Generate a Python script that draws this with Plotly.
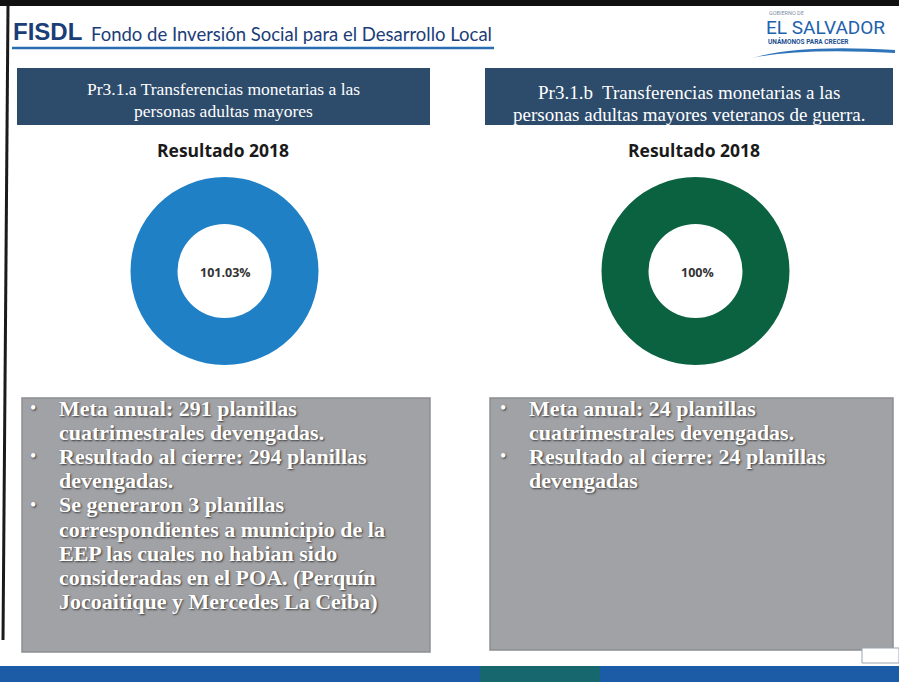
import plotly.graph_objects as go

W, H = 899, 682

# ---- data ----
indicadores = ["Pr3.1.a", "Pr3.1.b"]
resultado_pct = [101.03, 100]
resultado_lbl = ["101.03%", "100%"]
titulos = [
    ["Pr3.1.a Transferencias monetarias a las", "personas adultas mayores"],
    ["Pr3.1.b  Transferencias monetarias a las", "personas adultas mayores veteranos de guerra."],
]
subtitulo = "Resultado 2018"
texto_izq = [
    (True, "Meta anual: 291 planillas"),
    (False, "cuatrimestrales devengadas."),
    (True, "Resultado al cierre: 294 planillas"),
    (False, "devengadas."),
    (True, "Se generaron 3 planillas"),
    (False, "correspondientes a municipio de la"),
    (False, "EEP las cuales no habian sido"),
    (False, "consideradas en el POA. (Perquín"),
    (False, "Jocoaitique y Mercedes La Ceiba)"),
]
texto_der = [
    (True, "Meta anual: 24 planillas"),
    (False, "cuatrimestrales devengadas."),
    (True, "Resultado al cierre: 24 planillas"),
    (False, "devengadas"),
]

# ---- helpers (pixel -> paper) ----
def px(x):
    return x / W

def py(y):
    return 1 - y / H

fig = go.Figure()

colors = ["#1f80c6", "#0b6241"]
centers = [(224.5, 271), (695.5, 271)]
R = 94
for i, (cx, cy) in enumerate(centers):
    fig.add_trace(go.Pie(
        values=[resultado_pct[i]],
        labels=[indicadores[i]],
        hole=0.5,
        sort=False,
        textinfo="none",
        hoverinfo="skip",
        showlegend=False,
        marker=dict(colors=[colors[i]], line=dict(width=0)),
        domain=dict(x=[px(cx - R), px(cx + R)], y=[py(cy + R), py(cy - R)]),
    ))

shapes = []
ann = []

def rect(x0, y0, x1, y1, fill, line_color=None, lw=0):
    shapes.append(dict(type="rect", xref="paper", yref="paper",
                       x0=px(x0), x1=px(x1), y0=py(y1), y1=py(y0),
                       fillcolor=fill, line=dict(color=line_color or fill, width=lw),
                       layer="below"))

def text(x, y, s, size, color, family, xanchor="center", bold=False, shadow=None):
    f = dict(size=size, color=color, family=family)
    if bold:
        f["weight"] = "bold"
    if shadow:
        f["shadow"] = shadow
    ann.append(dict(x=px(x), y=py(y), xref="paper", yref="paper", text=s,
                    showarrow=False, xanchor=xanchor, yanchor="middle", font=f))

# frame
rect(0, 0, W, 6, "#111111")
shapes.append(dict(type="line", xref="paper", yref="paper", x0=px(8), y0=py(6),
                   x1=px(3), y1=py(640), line=dict(color="#1a1a1a", width=3)))

# header
text(11, 32, "FISDL", 24, "#1b3d78", "Liberation Sans", xanchor="left", bold=True)
text(89, 34, "Fondo de Inversión Social para el Desarrollo Local", 18.5, "#1b3d78",
     "Lato", xanchor="left")
shapes.append(dict(type="line", xref="paper", yref="paper", x0=px(12), y0=py(48),
                   x1=px(494), y1=py(48), line=dict(color="#2b6db3", width=2.5)))

# logo
text(767, 13, "GOBIERNO DE", 5.5, "#7f8fa8", "Roboto", xanchor="left")
text(764, 28, "EL SALVADOR", 19, "#1d62ad", "Roboto", xanchor="left")
text(766, 42, "UNÁMONOS PARA CRECER", 6.5, "#1d4f8f", "Roboto", xanchor="left", bold=True)
shapes.append(dict(type="path", xref="paper", yref="paper",
                   path=f"M {px(752)},{py(58)} Q {px(800)},{py(44)} {px(895)},{py(50)} "
                        f"L {px(895)},{py(53)} Q {px(800)},{py(48)} {px(752)},{py(58)} Z",
                   fillcolor="#2f74b8", line=dict(width=0)))

# title boxes
box_x = [(17, 430), (485, 893)]
title_sizes = [17.5, 19]
title_y = [(89, 111), (92, 115)]
for i in range(2):
    x0, x1 = box_x[i]
    rect(x0, 68, x1, 125, "#2d4b6b")
    cx = (x0 + x1) / 2
    for j, line in enumerate(titulos[i]):
        text(cx, title_y[i][j], line, title_sizes[i], "#ffffff", "Liberation Serif")

# subtitles and center labels
for i, (cx, cy) in enumerate(centers):
    text(cx - 2, 150, subtitulo, 17.5, "#1a1a1a", "Open Sans", bold=True)
    text(cx + 1.5, cy + 1, resultado_lbl[i], 12.5, "#333333", "Open Sans", bold=True)

# gray text boxes
gray_box = [(22, 398, 430, 652), (490, 398, 893, 650)]
for (x0, y0, x1, y1) in gray_box:
    rect(x0, y0, x1, y1, "#a0a2a6", "#8c8e92", 1.5)

shadow = "1px 1px 2px #3a3a3a"
for (bx, tx, lines) in [(33, 57, texto_izq), (503, 527, texto_der)]:
    for k, (has_bullet, s) in enumerate(lines):
        y = 408 + k * 24.2
        if has_bullet:
            text(bx, y, "•", 18, "#ffffff", "Liberation Serif", shadow=shadow)
        text(tx, y, s, 22, "#ffffff", "Liberation Serif", xanchor="left", bold=True,
             shadow=shadow)

# bottom band
rect(0, 666, W, H, "#1c5ca6")
rect(480, 666, 600, H, "#17676f")
rect(862, 648, W, 663, "#ffffff", "#9aa4b0", 1)

fig.update_layout(
    width=W, height=H,
    margin=dict(l=0, r=0, t=0, b=0),
    paper_bgcolor="#ffffff",
    plot_bgcolor="#ffffff",
    shapes=shapes,
    annotations=ann,
    showlegend=False,
)

fig.write_html(
    "out.html",
    config={"displayModeBar": False},
    post_script="document.body.style.margin='0';document.body.style.padding='0';"
                "document.body.style.overflow='hidden';",
)
